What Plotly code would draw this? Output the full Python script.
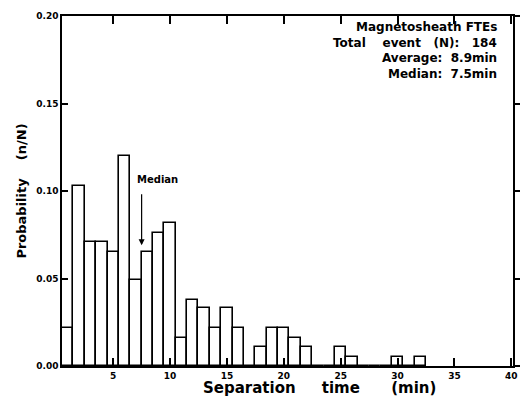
import plotly.graph_objects as go

# Separation time bins (min, bar centers) and probabilities n/N
sep_time = list(range(1, 33))
probability = [0.022, 0.103, 0.071, 0.071, 0.065, 0.120, 0.049, 0.065,
               0.076, 0.082, 0.016, 0.038, 0.033, 0.022, 0.033, 0.022,
               0.0, 0.011, 0.022, 0.022, 0.016, 0.011, 0.0, 0.0,
               0.011, 0.005, 0.0, 0.0, 0.0, 0.005, 0.0, 0.005]

x_ticks = [5, 10, 15, 20, 25, 30, 35, 40]
y_ticks = [0.00, 0.05, 0.10, 0.15, 0.20]

NB = "\u00a0"
info_lines = ["Magnetosheath FTEs",
              "Total" + NB * 4 + "event" + NB * 3 + "(N):" + NB * 3 + "184",
              "Average:" + NB * 2 + "8.9min",
              "Median:" + NB * 2 + "7.5min"]
x_title = "Separation" + NB * 5 + "time" + NB * 6 + "(min)"
y_title = "Probability" + NB * 4 + "(n/N)"
median_value = 7.5

FONT = "DejaVu Sans"

fig = go.Figure()
fig.add_trace(go.Bar(
    x=sep_time, y=probability, width=1.0,
    marker=dict(color="white", line=dict(color="black", width=1.6)),
    showlegend=False, hoverinfo="skip"))
# invisible trace to carry the right-hand y axis
fig.add_trace(go.Scatter(x=[sep_time[0]], y=[0], yaxis="y2", mode="markers",
                         marker=dict(opacity=0), showlegend=False, hoverinfo="skip"))

fig.update_layout(
    width=530, height=402,
    margin=dict(l=62, r=11, t=11, b=36),
    plot_bgcolor="white", paper_bgcolor="white",
    bargap=0,
    font=dict(family=FONT, color="black"),
    xaxis=dict(range=[0.5, 40.15], tickvals=x_ticks, ticks="inside", ticklen=8,
               tickwidth=1.5, tickcolor="black", showline=True, linecolor="black",
               linewidth=1.5, mirror="ticks", showgrid=False, zeroline=False,
               tickfont=dict(size=9, weight="bold", family=FONT), ticklabelstandoff=0),
    yaxis=dict(range=[0, 0.2], tickvals=y_ticks, tickformat=".2f", ticks="inside",
               ticklen=6, tickwidth=1.5, tickcolor="black", showline=True,
               linecolor="black", linewidth=1.5, mirror=True, showgrid=False,
               zeroline=False, tickfont=dict(size=9, weight="bold", family=FONT),
               title=dict(text=y_title,
                          font=dict(size=13, weight="bold", family=FONT), standoff=7)),
    yaxis2=dict(range=[0, 0.2], tickvals=y_ticks, overlaying="y", side="right",
                ticks="outside", ticklen=6, tickwidth=1.5, tickcolor="black",
                showticklabels=False, showline=False, showgrid=False, zeroline=False),
)

fig.add_annotation(xref="paper", yref="paper", x=0.572, y=-0.062, text=x_title,
                   showarrow=False, xanchor="center", yanchor="middle",
                   font=dict(size=15, weight="bold", family=FONT))

info_y = [0.969, 0.924, 0.879, 0.834]
for txt, yy in zip(info_lines, info_y):
    fig.add_annotation(xref="paper", yref="paper", x=0.968, y=yy, text=txt,
                       showarrow=False, xanchor="right", yanchor="middle",
                       font=dict(size=12, weight="bold", family=FONT))

fig.add_annotation(xref="x", yref="y", x=8.9, y=0.1065, text="Median", showarrow=False,
                   font=dict(size=10, weight="bold", family=FONT))
fig.add_annotation(xref="x", yref="y", x=median_value, y=0.069, ax=median_value, ay=0.099,
                   axref="x", ayref="y", text="", showarrow=True, arrowhead=2,
                   arrowsize=1, arrowwidth=1.2, arrowcolor="black")

fig.write_html("out.html")
